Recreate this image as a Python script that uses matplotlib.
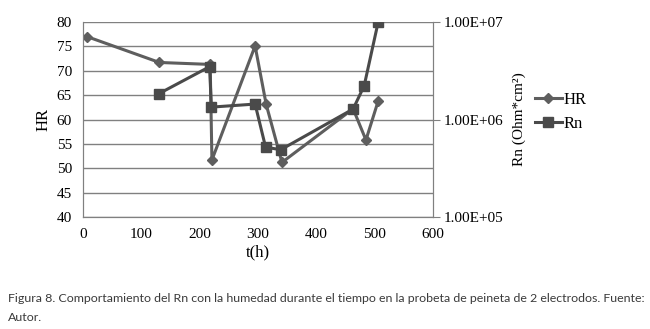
import matplotlib.pyplot as plt

# HR (eje izquierdo)
t_hr = [7, 131, 218, 221, 295, 314, 341, 463, 485, 506]
hr = [77.0, 71.7, 71.3, 51.7, 75.1, 63.1, 51.2, 62.2, 55.8, 63.8]

# Rn (eje derecho, escala log)
t_rn = [130, 217, 220, 295, 313, 339, 463, 482, 506]
rn = [1.84e6, 3.48e6, 1.34e6, 1.44e6, 5.2e5, 4.9e5, 1.28e6, 2.22e6, 1.0e7]

caption = ("Figura 8. Comportamiento del Rn con la humedad durante el tiempo en la probeta de peineta de 2 electrodos. Fuente:\n"
           "Autor.")

plt.rcParams["font.family"] = "Liberation Serif"

fig = plt.figure(figsize=(6.5, 3.29), dpi=100)
ax = fig.add_axes([0.1277, 0.3404, 0.5385, 0.5927])
ax2 = ax.twinx()

grid_c = "#808080"
ax.set_xlim(0, 600)
ax.set_ylim(40, 80)
ax.set_xticks(range(0, 601, 100))
ax.set_yticks(range(40, 81, 5))
ax.yaxis.grid(True, color=grid_c, linewidth=1)
ax.set_axisbelow(True)

l1, = ax.plot(t_hr, hr, color="#5e5e5e", linewidth=2.2, marker="D",
              markersize=5, label="HR", zorder=3)
l2, = ax2.plot(t_rn, rn, color="#4a4a4a", linewidth=2.2, marker="s",
               markersize=7, label="Rn", zorder=3)

ax2.set_yscale("log")
ax2.set_ylim(1e5, 1e7)
ax2.set_yticks([1e5, 1e6, 1e7])
ax2.set_yticklabels(["1.00E+05", "1.00E+06", "1.00E+07"])
ax2.minorticks_off()

for a in (ax, ax2):
    a.spines["top"].set_visible(False)
    for s in ("left", "right", "bottom"):
        a.spines[s].set_color(grid_c)
    a.tick_params(colors="black", labelsize=11, length=4, color=grid_c)
ax.tick_params(axis="y", length=0, pad=8)
ax.tick_params(axis="x", length=0, pad=8)
ax2.tick_params(axis="y", length=5, pad=3)

ax.set_xlabel("t(h)", fontsize=12, labelpad=2)
ax.set_ylabel("HR", fontsize=12, labelpad=4)
ax2.set_ylabel("Rn (Ohm*cm²)", fontsize=11, labelpad=6)

fig.legend(handles=[l1, l2], loc="upper left", bbox_to_anchor=(0.8, 0.765),
           frameon=False, fontsize=12, handlelength=1.6, handletextpad=0.1,
           labelspacing=0.45)

fig.text(0.012, 0.11, caption, fontsize=8.9, family="Lato", va="top",
         color="#3a3a3a", linespacing=1.9)

plt.savefig("out.png", dpi=100)
plt.close()
